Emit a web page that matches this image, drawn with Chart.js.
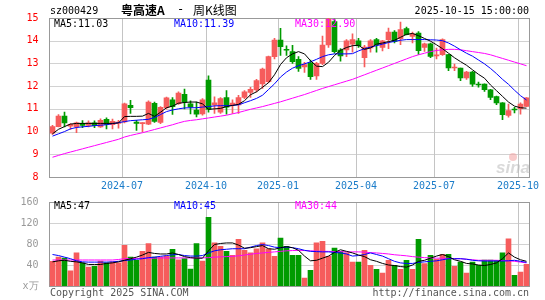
<!DOCTYPE html>
<html><head><meta charset="utf-8">
<script src="https://cdn.jsdelivr.net/npm/chart.js@4.4.1/dist/chart.umd.min.js"></script>
<style>
html,body{margin:0;padding:0;background:#fff;}
#wrap{position:relative;width:545px;height:300px;overflow:hidden;}
canvas{position:absolute;left:0;top:0;}
</style></head><body>
<div id="wrap"><canvas id="k" width="545" height="300"></canvas><canvas id="v" width="545" height="300"></canvas></div>
<script>
const weeks = ['2024-04-12','2024-04-19','2024-04-26','2024-04-30','2024-05-10','2024-05-17','2024-05-24','2024-05-31','2024-06-07','2024-06-14',
'2024-06-21','2024-06-28','2024-07-05','2024-07-12','2024-07-19','2024-07-26','2024-08-02','2024-08-09','2024-08-16','2024-08-23',
'2024-08-30','2024-09-06','2024-09-13','2024-09-20','2024-09-27','2024-09-30','2024-10-11','2024-10-18','2024-10-25','2024-11-01',
'2024-11-08','2024-11-15','2024-11-22','2024-11-29','2024-12-06','2024-12-13','2024-12-20','2024-12-27','2025-01-03','2025-01-10',
'2025-01-17','2025-01-24','2025-01-27','2025-02-07','2025-02-14','2025-02-21','2025-02-28','2025-03-07','2025-03-14','2025-03-21',
'2025-03-28','2025-04-03','2025-04-11','2025-04-18','2025-04-25','2025-04-30','2025-05-09','2025-05-16','2025-05-23','2025-05-30',
'2025-06-06','2025-06-13','2025-06-20','2025-06-27','2025-07-04','2025-07-11','2025-07-18','2025-07-25','2025-08-01','2025-08-08',
'2025-08-15','2025-08-22','2025-08-29','2025-09-05','2025-09-12','2025-09-19','2025-09-26','2025-09-30','2025-10-10','2025-10-15'];

const openP  = [9.93,10.22,10.68,10.24,10.20,10.36,10.27,10.39,10.20,10.54, 10.30,10.36,10.43,11.15,10.42,10.35,10.33,11.24,10.40,11.05,
11.40,11.23,11.64,11.22,10.95,10.78,12.27,11.17,10.85,11.50, 11.18,11.17,11.50,11.72,11.83,12.10,12.20,13.30,14.03,13.62,
13.52,13.18,12.85,13.03,12.45,13.00,13.81,14.84,13.59,13.60, 13.85,14.00,13.25,13.68,14.05,13.71,14.05,14.38,14.09,14.53,
14.19,14.34,13.71,13.86,13.33,13.39,13.39,12.80,12.80,12.36, 12.62,12.08,12.09,11.84,11.54,11.26,10.71,10.98,11.01,11.11];
const closeP = [10.22,10.68,10.38,10.32,10.38,10.27,10.38,10.26,10.50,10.31, 10.45,10.42,11.22,11.05,10.36,10.38,11.30,10.45,11.07,11.48,
11.10,11.70,11.30,11.08,10.77,11.40,10.98,11.27,11.45,11.07, 11.25,11.50,11.75,11.86,12.25,12.75,13.30,14.03,13.74,13.58,
13.08,12.78,12.95,12.42,13.00,13.81,14.95,13.52,13.33,14.00, 14.05,13.78,13.72,14.00,13.83,14.00,14.38,13.97,14.49,14.27,
14.30,13.56,13.86,13.31,13.38,14.05,12.80,12.82,12.36,12.62, 12.09,12.05,11.84,11.50,11.26,10.74,10.92,10.95,11.21,11.48];
const highP  = [10.28,10.75,10.86,10.35,10.42,10.48,10.47,10.47,10.56,10.60, 10.55,10.50,11.25,11.37,10.50,10.40,11.35,11.30,11.10,11.52,
11.50,11.75,11.87,11.35,11.30,11.45,12.45,11.53,11.50,11.80, 11.40,11.60,11.80,11.95,12.30,12.80,13.32,14.10,14.55,13.78,
13.80,13.30,13.05,13.15,13.05,14.20,15.00,14.95,13.65,14.05, 14.30,14.10,13.80,14.05,14.10,14.02,14.56,14.45,14.82,14.60,
14.38,14.40,13.90,13.90,13.68,14.08,13.40,12.97,12.80,12.65, 12.65,12.18,12.10,11.86,11.56,11.28,11.21,11.07,11.26,11.50];
const lowP   = [9.88,10.20,10.20,10.10,9.95,10.17,10.20,10.17,10.18,10.12, 10.12,10.15,10.38,10.80,10.05,9.98,10.30,10.40,10.35,11.00,
10.75,11.20,11.00,10.78,10.65,10.72,10.85,10.80,10.80,10.77, 10.80,10.80,11.45,11.50,11.75,11.90,12.15,13.20,13.35,13.35,
13.00,12.65,12.60,12.30,12.30,12.95,13.70,13.45,13.10,13.30, 13.50,13.70,12.85,13.50,13.50,13.55,13.65,13.90,13.83,14.25,
13.90,13.40,13.53,13.25,13.20,13.35,12.68,12.68,12.24,12.30, 11.99,11.95,11.77,11.40,11.18,10.52,10.63,10.82,10.77,11.10];

const ma5  = [9.90,10.10,10.22,10.33,10.36,10.36,10.36,10.36,10.36,10.36, 10.36,10.38,10.66,10.67,10.67,10.68,10.80,10.67,10.85,11.05,
11.12,11.25,11.28,11.30,11.30,11.22,10.98,11.00,11.02,11.10, 11.15,11.20,11.36,11.62,11.75,11.95,12.15,12.50,12.95,13.25,
13.42,13.52,13.42,13.12,12.88,12.86,13.05,13.35,13.58,13.70, 13.78,13.80,13.62,13.68,13.85,13.90,13.96,14.02,14.15,14.28,
14.32,14.22,14.10,13.98,13.82,13.65,13.45,13.25,13.08,12.92, 12.72,12.52,12.35,12.05,11.80,11.55,11.30,11.12,11.05,11.03];
const ma10 = [9.80,9.90,10.00,10.12,10.18,10.21,10.23,10.26,10.28,10.30, 10.35,10.39,10.44,10.48,10.50,10.52,10.54,10.62,10.75,10.88,
10.95,11.00,11.04,11.05,11.05,11.08,11.10,11.13,11.14,11.14, 11.15,11.18,11.27,11.36,11.46,11.60,11.85,12.10,12.40,12.62,
12.79,12.90,12.98,13.07,13.18,13.30,13.38,13.42,13.42,13.42, 13.43,13.55,13.65,13.72,13.78,13.85,13.92,13.97,14.02,14.05,
14.05,14.05,14.05,14.04,14.03,14.00,13.90,13.76,13.60,13.45, 13.32,13.15,12.98,12.78,12.55,12.30,12.08,11.82,11.58,11.39];
const ma30 = [8.87,8.95,9.03,9.10,9.17,9.24,9.31,9.38,9.45,9.52, 9.59,9.66,9.76,9.83,9.89,9.95,10.02,10.09,10.16,10.23,
10.30,10.38,10.45,10.49,10.52,10.56,10.60,10.64,10.68,10.72, 10.78,10.84,10.91,10.98,11.04,11.10,11.17,11.24,11.31,11.39,
11.47,11.55,11.63,11.72,11.81,11.90,11.98,12.06,12.14,12.22, 12.30,12.40,12.50,12.60,12.70,12.80,12.90,13.00,13.10,13.20,
13.30,13.38,13.45,13.52,13.57,13.60,13.62,13.62,13.60,13.56, 13.52,13.48,13.44,13.38,13.30,13.22,13.14,13.06,12.98,12.90];

const volume = [47,55,53,29,63,44,36,37.5,47.6,44, 46,44,77.5,55,49,66,80.7,55,55,57,
70,50,52,32,80.7,47.6,131,82,75.6,66, 58.5,89,68,63,71,82,71,56.6,91.5,75.6,
58.5,58.5,15.3,30,82,85,56.6,72.4,66,63, 45.7,45.7,68,39.4,31.8,24.8,49,39.4,31.8,49,
31.8,89,42.6,58.5,50.8,60.4,60.4,37.5,45.7,24.8, 45.7,39.4,49.5,49.5,49,63,90,20.4,26.7,41.3];
const volMa5 = [46,48,49,47,46,44,41,41,41,43, 44,46,49,52,55,59,64,62,61,61,
63,60,56,54,53,53,67,79,81,82, 82,78,72,73,75,77,71,70,73,75,
73,68,57,48,49,53,57,64,69,66, 63,59,56,50,47,43,40,39,37,36,
40,47,49,53,57,60,56,50,47,43, 42,40,39,41,44,52,63,55,50,47];
const volMa10 = [60,58,55,52,48,46,45.5,45.5,45.5,45.5, 46,47,48.5,49.5,51,52,54,55,56.5,58,
59.5,60,58,57,57,58,63,67,69,70, 71,71,71,74,77,79,77,74,73,74,
73,71,68,66,65.5,65,65,64,63,61, 57,58,60,63,60,57,52,47,44,43,
43,45,46,47,48,50,52,52,52,51, 49,48,47.6,47.6,47.6,47.6,48,49,47,45];
const volMa30 = [49.5,49.5,49.5,49.5,49.5,49.5,49.5,49.5,49.5,49.5, 49.5,50.5,52,52.5,52.5,53,53,53,53.5,53.5,
53.5,53.5,53.5,53.5,53.5,53.5,54,55,55.5,56, 56.6,57.5,59,60.5,62,63,64,65,66,67,
67.5,68,67.5,67,66.5,66,66,65.5,65.5,65, 65,65,64.5,63.5,63,62,61,59.5,58.5,57.5,
56,55,54,53.5,53,53,52.5,52,52,51, 50,49,49,49,49,48.5,48,47,45.5,44];

const priceTicks = [8,9,10,11,12,13,14,15];
const volTicks = [0,40,80,120,160];
const volUnit = 'x万';
const quarterMonths = [1,4,7,10];
const stockCode = 'sz000429', stockName = '粤高速A', chartKind = '周K线图', stamp = '2025-10-15 15:00:00';

const RED = '#f65c5c', GREEN = '#009b00';
const MONO = '"DejaVu Sans Mono", "Liberation Mono", monospace';
const CJK = '"Noto Sans CJK SC", sans-serif';
const dirColor = weeks.map((_, i) => closeP[i] >= openP[i] ? RED : GREEN);
const qLabel = weeks.map((w, i) => {
  if (i === 0) return '';
  const m = +w.slice(5, 7), pm = +weeks[i - 1].slice(5, 7);
  return (m !== pm && quarterMonths.includes(m)) ? w.slice(0, 7) : '';
});

const LEFT = 49.5, RIGHT_PAD = 15.5;

function slotStart(xs, i) {
  const half = (xs.getPixelForValue(1) - xs.getPixelForValue(0)) / 2;
  return xs.getPixelForValue(i) - half;
}
// grid: one continuous thin light line per gridline
function paintGrid(chart, tickVals) {
  const ctx = chart.ctx, a = chart.chartArea, xs = chart.scales.x, ys = chart.scales.y;
  ctx.save();
  ctx.lineWidth = 1;
  tickVals.forEach((v) => {
    if (v <= ys.min || v >= ys.max) return;
    const ry = Math.round(ys.getPixelForValue(v)) + 0.5;
    ctx.beginPath(); ctx.strokeStyle = '#d2d2d2';
    ctx.moveTo(a.left, ry); ctx.lineTo(a.right, ry); ctx.stroke();
  });
  qLabel.forEach((l, i) => {
    if (!l) return;
    const rx = Math.round(slotStart(xs, i)) + 0.5;
    ctx.beginPath(); ctx.strokeStyle = '#c4c4c4';
    ctx.moveTo(rx, a.top); ctx.lineTo(rx, a.bottom); ctx.stroke();
  });
  ctx.strokeStyle = '#999999';
  ctx.strokeRect(a.left, Math.round(a.top) + 0.5, a.right - a.left, Math.round(a.bottom) - Math.round(a.top));
  ctx.restore();
}
function txt(ctx, s, x, y, color, font, align) {
  ctx.font = font; ctx.fillStyle = color; ctx.textAlign = align || 'left'; ctx.textBaseline = 'middle';
  ctx.fillText(s, x, y);
}

new Chart(document.getElementById('k'), {
  type: 'bar',
  data: {
    labels: weeks,
    datasets: [
      {type: 'line', data: ma5, borderColor: '#000', borderWidth: 1, pointRadius: 0, tension: 0, order: 0},
      {type: 'line', data: ma10, borderColor: '#0000ff', borderWidth: 1, pointRadius: 0, tension: 0, order: 0},
      {type: 'line', data: ma30, borderColor: '#ff00ff', borderWidth: 1, pointRadius: 0, tension: 0, order: 0},
      {data: weeks.map((_, i) => [openP[i], closeP[i]]), backgroundColor: dirColor, barThickness: 5, grouped: false, minBarLength: 1, order: 1},
      {data: weeks.map((_, i) => [lowP[i], highP[i]]), backgroundColor: dirColor, barThickness: 1, grouped: false, order: 2}
    ]
  },
  options: {
    responsive: false, animation: false, events: [],
    layout: {padding: {top: 18, right: RIGHT_PAD, left: 0, bottom: 103}},
    plugins: {legend: {display: false}, tooltip: {enabled: false}},
    scales: {
      x: {offset: true, grid: {display: false}, border: {display: false}, ticks: {display: false},
        afterFit: (s) => { s.height = 20; }},
      y: {
        min: 8, max: 15,
        afterBuildTicks: (s) => { s.ticks = priceTicks.map(v => ({value: v})); },
        grid: {display: false}, border: {display: false},
        ticks: {color: '#ff0000', padding: 3, font: {family: MONO, size: 10}},
        afterFit: (s) => { s.width = LEFT; }
      }
    }
  },
  plugins: [{
    id: 'deco',
    beforeDatasetsDraw: (chart) => paintGrid(chart, priceTicks),
    afterDraw(chart) {
      const ctx = chart.ctx, xs = chart.scales.x;
      ctx.save();
      qLabel.forEach((l, i) => { if (l) txt(ctx, l, Math.round(slotStart(xs, i)), 186, '#1b7cc9', '10px ' + MONO, 'center'); });
      txt(ctx, stockCode, 50, 11, '#000', '10px ' + MONO);
      txt(ctx, stockName, 121, 10, '#000', 'bold 12px ' + CJK);
      txt(ctx, '-', 177, 10, '#000', '12px ' + MONO);
      txt(ctx, chartKind, 193, 10, '#000', '12px ' + CJK);
      txt(ctx, stamp, 529, 11, '#000', '10px ' + MONO, 'right');
      const n = weeks.length - 1;
      txt(ctx, 'MA5:' + ma5[n].toFixed(2), 54, 24, '#000', '10px ' + MONO);
      txt(ctx, 'MA10:' + ma10[n].toFixed(2), 174, 24, '#0000ff', '10px ' + MONO);
      txt(ctx, 'MA30:' + ma30[n].toFixed(2), 295, 24, '#ff00ff', '10px ' + MONO);
      ctx.globalAlpha = 0.55;
      txt(ctx, 'sina', 496, 168, '#b9b9b9', 'italic bold 17px "Liberation Sans", sans-serif');
      ctx.beginPath(); ctx.arc(513, 157, 4, 0, Math.PI * 2); ctx.fillStyle = '#f2a0a0'; ctx.fill();
      ctx.restore();
    }
  }]
});

new Chart(document.getElementById('v'), {
  type: 'bar',
  data: {
    labels: weeks,
    datasets: [
      {type: 'line', data: volMa5, borderColor: '#000', borderWidth: 1, pointRadius: 0, tension: 0, order: 0},
      {type: 'line', data: volMa10, borderColor: '#0000ff', borderWidth: 1, pointRadius: 0, tension: 0, order: 0},
      {type: 'line', data: volMa30, borderColor: '#ff00ff', borderWidth: 1, pointRadius: 0, tension: 0, order: 0},
      {data: volume, backgroundColor: dirColor, barThickness: 5, order: 1}
    ]
  },
  options: {
    responsive: false, animation: false, events: [],
    layout: {padding: {top: 202, right: RIGHT_PAD, left: 0, bottom: 14}},
    plugins: {legend: {display: false}, tooltip: {enabled: false}},
    scales: {
      x: {offset: true, grid: {display: false}, border: {display: false}, ticks: {display: false},
        afterFit: (s) => { s.height = 0; }},
      y: {
        min: 0, max: 160,
        afterBuildTicks: (s) => { s.ticks = volTicks.map(v => ({value: v})); },
        grid: {display: false}, border: {display: false},
        ticks: {color: '#999999', padding: 3, font: {family: MONO, size: 10},
          callback: (v) => v === 0 ? volUnit : String(v)},
        afterFit: (s) => { s.width = LEFT; }
      }
    }
  },
  plugins: [{
    id: 'deco2',
    beforeDatasetsDraw: (chart) => paintGrid(chart, volTicks),
    afterDraw(chart) {
      const ctx = chart.ctx, n = weeks.length - 1;
      ctx.save();
      txt(ctx, 'MA5:' + Math.round(volMa5[n]), 54, 206.5, '#000', '10px ' + MONO);
      txt(ctx, 'MA10:' + Math.round(volMa10[n]), 174, 206.5, '#0000ff', '10px ' + MONO);
      txt(ctx, 'MA30:' + Math.round(volMa30[n]), 295, 206.5, '#ff00ff', '10px ' + MONO);
      txt(ctx, 'Copyright 2025 SINA.COM', 50, 293, '#555', '10px ' + MONO);
      txt(ctx, 'http://finance.sina.com.cn', 529, 293, '#555', '10px ' + MONO, 'right');
      ctx.restore();
    }
  }]
});
</script>
</body></html>
